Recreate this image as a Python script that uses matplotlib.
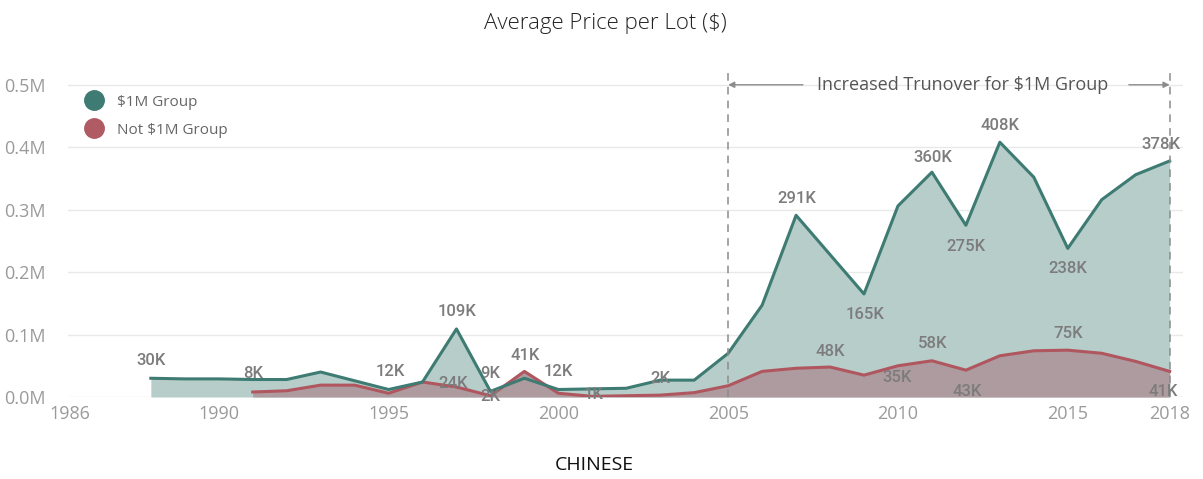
import matplotlib
matplotlib.use("Agg")
import matplotlib.pyplot as plt
import matplotlib.transforms as mtransforms
from matplotlib.lines import Line2D

# average price per lot, in thousands of dollars
years_1m = [1988, 1989, 1990, 1991, 1992, 1993, 1994, 1995, 1996, 1997, 1998, 1999,
            2000, 2001, 2002, 2003, 2004, 2005, 2006, 2007, 2008, 2009, 2010, 2011,
            2012, 2013, 2014, 2015, 2016, 2017, 2018]
price_1m = [30, 29, 29, 28, 28, 40, 26, 12, 24, 109, 9, 30,
            12, 13, 14, 27, 27, 70, 147, 291, 228, 165, 306, 360,
            275, 408, 352, 238, 316, 356, 378]

years_not = [1991, 1992, 1993, 1994, 1995, 1996, 1997, 1998, 1999, 2000, 2001, 2002,
             2003, 2004, 2005, 2006, 2007, 2008, 2009, 2010, 2011, 2012, 2013, 2014,
             2015, 2016, 2017, 2018]
price_not = [8, 10, 19, 19, 6, 24, 16, 2, 41, 6, 1, 2,
             3, 7, 18, 41, 46, 48, 35, 50, 58, 43, 66, 74,
             75, 70, 57, 41]

x_ticks = [1986, 1990, 1995, 2000, 2005, 2010, 2015, 2018]
y_ticks = [0.0, 0.1, 0.2, 0.3, 0.4, 0.5]

# data labels: (series, year, text, dx px, dy px)
labels = [
    ("1m", 1988, "30K", 0, 18), ("not", 1991, "8K", 0, 18), ("1m", 1995, "12K", 2, 18),
    ("1m", 1997, "109K", 1, 17), ("not", 1997, "24K", -3, 4), ("1m", 1998, "9K", 0, 18),
    ("not", 1998, "2K", 0, -1), ("not", 1999, "41K", 1, 16), ("1m", 2000, "12K", 0, 18),
    ("not", 2001, "1K", 1, 2), ("1m", 2003, "2K", 0, 2), ("1m", 2007, "291K", 1, 17),
    ("1m", 2009, "165K", 1, -21), ("1m", 2011, "360K", 1, 15), ("1m", 2012, "275K", 0, -21),
    ("1m", 2013, "408K", 0, 17), ("1m", 2015, "238K", 0, -20), ("1m", 2018, "378K", -9, 16),
    ("not", 2008, "48K", 0, 16), ("not", 2009, "35K", 33, -2), ("not", 2011, "58K", 1, 17),
    ("not", 2012, "43K", 1, -21), ("not", 2015, "75K", 0, 17), ("not", 2018, "41K", -6, -20),
]

GREEN = "#3e7b73"
GREEN_FILL = "#b7cdca"
RED = "#b0565f"
RED_FILL = "#ad9b9f"


def main() -> None:
    fig = plt.figure(figsize=(12.03, 4.79), dpi=100)
    ax = fig.add_axes([0.0565, 0.1712, 0.9265, 0.687])

    y1 = [v / 1000 for v in price_1m]
    y2 = [v / 1000 for v in price_not]
    ax.fill_between(years_1m, y1, 0, color=GREEN_FILL, linewidth=0, zorder=1)
    ax.fill_between(years_not, y2, 0, color=RED_FILL, linewidth=0, zorder=2)
    ax.plot(years_not, y2, color=RED, linewidth=2.2, zorder=3)
    ax.plot(years_1m, y1, color=GREEN, linewidth=2.2, zorder=4)

    ax.set_xlim(1985.56, 2018.38)
    ax.set_ylim(0, 0.527)
    ax.set_xticks(x_ticks)
    ax.set_yticks(y_ticks)
    ax.set_yticklabels([f"{t:.1f}M" for t in y_ticks])
    ax.tick_params(length=0, labelsize=13, labelcolor="#9a9a9a", pad=6)
    ax.tick_params(axis="y", pad=16)
    for lab in ax.get_xticklabels() + ax.get_yticklabels():
        lab.set_family("Open Sans")
    first = ax.get_xticklabels()[0]
    first.set_transform(first.get_transform() + mtransforms.ScaledTranslation(-0.13, 0, fig.dpi_scale_trans))
    ax.grid(axis="y", color="#e9e9e9", linewidth=1)
    ax.set_axisbelow(True)
    for s in ax.spines.values():
        s.set_visible(False)

    # data labels
    series = {"1m": (years_1m, y1), "not": (years_not, y2)}
    for key, yr, text, dx, dy in labels:
        xs, ys = series[key]
        val = ys[xs.index(yr)]
        ax.annotate(text, xy=(yr, val), xytext=(dx, dy), textcoords="offset pixels",
                    ha="center", va="center", fontsize=12, color="#7c7c7c",
                    family="Roboto", fontweight="medium", zorder=6)

    # highlighted period
    for yr in (2005, 2018):
        ax.axvline(yr, color="#8c8c8c", linestyle=(0, (5, 4)), linewidth=1.1, zorder=5)
    y_note = 0.5
    ax.text(2011.9, y_note, "Increased Trunover for $1M Group", ha="center", va="center",
            fontsize=13, color="#555555", family="Open Sans", zorder=6)
    ax.annotate("", xy=(2005, y_note), xytext=(2007.2, y_note),
                arrowprops=dict(arrowstyle="-|>", color="#8c8c8c", lw=1, shrinkA=0, shrinkB=0,
                                mutation_scale=9))
    ax.annotate("", xy=(2018, y_note), xytext=(2016.8, y_note),
                arrowprops=dict(arrowstyle="-|>", color="#8c8c8c", lw=1, shrinkA=0, shrinkB=0,
                                mutation_scale=9))

    handles = [Line2D([], [], marker="o", linestyle="", markersize=14, color=GREEN),
               Line2D([], [], marker="o", linestyle="", markersize=14, color="#b05a64")]
    leg = ax.legend(handles, ["$1M Group", "Not $1M Group"], loc="upper left",
                    bbox_to_anchor=(-0.003, 0.96), frameon=False, handletextpad=0.5,
                    labelspacing=0.85, prop={"family": "Open Sans", "size": 11})
    for t in leg.get_texts():
        t.set_color("#666666")

    fig.text(0.503, 0.95, "Average Price per Lot ($)", ha="center", va="center",
             fontsize=16, color="#222222", family="Open Sans", fontweight="light")
    fig.text(0.494, 0.029, "CHINESE", ha="center", va="center",
             fontsize=14, color="#111111", family="Open Sans")

    fig.savefig("out.png", dpi=100)
    plt.close(fig)


if __name__ == "__main__":
    main()
